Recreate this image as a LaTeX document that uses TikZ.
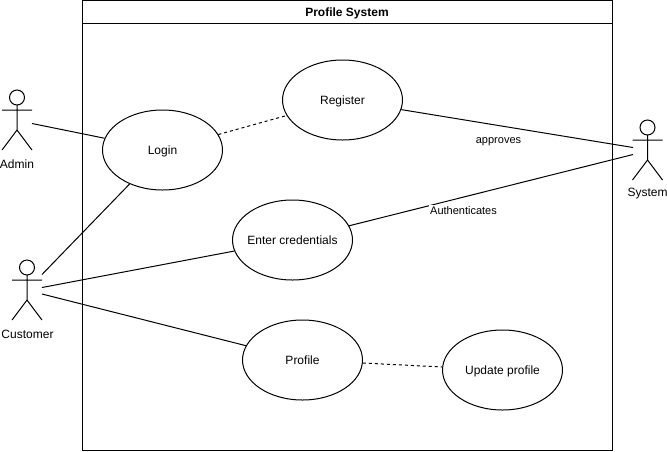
\documentclass[tikz,border=0pt]{standalone}
\usepackage{fontspec}
\setmainfont{Liberation Sans}
\usetikzlibrary{shapes.geometric}
\tikzset{
 px/.style={x=0.75pt,y=-0.75pt},
 uc/.style={draw,ellipse,line width=0.75pt,minimum width=90pt,minimum height=60pt,inner sep=0pt,font=\fontsize{9}{11}\selectfont,fill=white},
 lbl/.style={font=\fontsize{9}{11}\selectfont,inner sep=1pt},
 edgelbl/.style={font=\fontsize{8.25}{10}\selectfont,inner sep=1pt},
 lnk/.style={line width=0.75pt},
 dsh/.style={line width=0.75pt,dash pattern=on 2.25pt off 2.25pt},
}
\newcommand{\actor}[2]{% x y(top)
 \begin{scope}[shift={(#1,#2)},line width=0.75pt]
 \draw (0,7.5) circle (5.625pt);
 \draw (0,15) -- (0,40) (-15,20) -- (15,20) (0,40) -- (-15,60) (0,40) -- (15,60);
 \end{scope}}
\newcommand{\uctext}[1]{\raisebox{-3.6pt}[0pt][0pt]{\makebox[0pt]{#1}}}
\begin{document}
\begin{tikzpicture}[px]
\useasboundingbox (0,0) rectangle (667,451);
\fill[white] (0,0) rectangle (667,451);
\draw[line width=0.75pt] (82.5,0.5) rectangle (612.5,450.5);
\draw[line width=0.75pt] (82.5,23.5) -- (612.5,23.5);
\node[lbl,font=\fontsize{9}{11}\selectfont\bfseries] (title) at (347,13.5) {Profile System};
\actor{17}{90}
\actor{27}{260}
\actor{647.5}{120}
\coordinate (adminr) at (32,123.5);
\coordinate (custr) at (42,274.5);
\coordinate (custm) at (42,287.5);
\coordinate (custl) at (42,294);
\coordinate (sysl) at (633,147.5);
\coordinate (sysl2) at (633,154.5);
\node[lbl] (admin) at (17,164) {Admin};
\node[lbl] (customer) at (27.5,334) {Customer};
\node[lbl] (system) at (647.5,194) {System};
\node[uc] (login) at (162.5,150) {\uctext{Login}};
\node[uc] (register) at (342.5,100) {\uctext{Register}};
\node[uc] (cred) at (292.5,240) {\uctext{Enter credentials}};
\node[uc] (profile) at (302.5,360) {\uctext{Profile}};
\node[uc] (update) at (502.5,370) {\uctext{Update profile}};
\draw[lnk] (adminr) -- (login);
\draw[dsh] (login) -- (register);
\draw[lnk] (custr) -- (login);
\draw[lnk] (custm) -- (cred);
\draw[lnk] (custl) -- (profile);
\draw[dsh] (profile) -- (update);
\draw[lnk] (register) -- (sysl);
\draw[lnk] (cred) -- (sysl2);
\node[edgelbl] (approves) at (498.5,141.5) {approves};
\node[edgelbl,fill=white] (auth) at (463.5,210.5) {Authenticates};
\end{tikzpicture}
\end{document}
